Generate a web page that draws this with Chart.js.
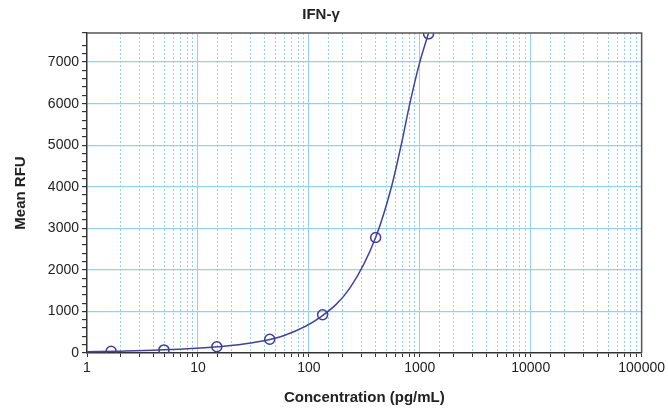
<!DOCTYPE html>
<html lang="en">
<head>
  <meta charset="UTF-8">
  <title>IFN-γ standard curve</title>
  <script src="https://cdn.jsdelivr.net/npm/chart.js"></script>
  <style>
    html, body { margin: 0; padding: 0; background: white; }
    #chartContainer { width: 668px; height: 411px; }
  </style>
</head>
<body>
  <div id="chartContainer">
    <canvas id="chart"></canvas>
  </div>

  <script>
    // standards (3-fold dilutions) and measured mean RFU
    const concentrations = [1.65, 4.94, 14.8, 44.4, 133, 400, 1200];
    const meanRFU = [40, 75, 150, 330, 920, 2780, 7680];

    // fitted curve
    const fitConc = [1, 2, 4, 8, 15, 30, 60, 130, 234, 400, 556, 684, 813, 1000, 1200];
    const fitRFU = [30, 45, 65, 100, 150, 240, 420, 880, 1560, 2780, 4000, 5040, 6000, 7000, 7700];

    const xTickLabels = [1, 10, 100, 1000, 10000, 100000];
    const yTickLabels = [0, 1000, 2000, 3000, 4000, 5000, 6000, 7000];

    const gridBlue = '#95d0ec';
    const axisDark = '#333333';
    const fontFamily = '"Liberation Sans", Arial, Helvetica, sans-serif';

    function isDecade(v) {
      const l = Math.log10(v);
      return Math.abs(l - Math.round(l)) < 1e-9;
    }

    // box round the plot area (top + right edges)
    const frame = {
      id: 'frame',
      afterDraw(chart) {
        const { ctx, chartArea: a } = chart;
        ctx.save();
        ctx.strokeStyle = '#555555';
        ctx.lineWidth = 1.5;
        ctx.beginPath();
        ctx.moveTo(a.left, a.top);
        ctx.lineTo(a.right, a.top);
        ctx.lineTo(a.right, a.bottom);
        ctx.stroke();
        ctx.restore();
      }
    };

    const ctx = document.getElementById('chart').getContext('2d');
    const chart = new Chart(ctx, {
      type: 'scatter',
      data: {
        datasets: [
          {
            label: 'Standards',
            data: concentrations.map((c, i) => ({ x: c, y: meanRFU[i] })),
            pointRadius: 5,
            pointBorderWidth: 1.5,
            borderColor: '#3c4098',
            backgroundColor: 'rgba(255,255,255,0)',
            showLine: false,
            order: 0
          },
          {
            label: 'Fit',
            data: fitConc.map((c, i) => ({ x: c, y: fitRFU[i] })),
            showLine: true,
            pointRadius: 0,
            borderColor: '#40429c',
            borderWidth: 1.5,
            cubicInterpolationMode: 'monotone',
            fill: false,
            order: 1
          }
        ]
      },
      options: {
        responsive: true,
        maintainAspectRatio: false,
        animation: false,
        layout: { padding: { left: 0, right: 26, top: 0, bottom: 0 } },
        plugins: {
          legend: { display: false },
          tooltip: { enabled: false },
          title: {
            display: true,
            text: 'IFN-γ',
            color: '#222',
            font: { family: fontFamily, size: 15, weight: 'bold' },
            padding: { top: 6, bottom: 9 }
          }
        },
        scales: {
          x: {
            type: 'logarithmic',
            min: 1,
            max: 100000,
            afterFit: (scale) => { scale.height = 58; },
            ticks: {
              autoSkip: false,
              maxRotation: 0,
              color: '#222',
              font: { family: fontFamily, size: 14 },
              padding: 3,
              callback: (v) => xTickLabels.includes(v) ? String(v) : ''
            },
            grid: {
              color: (c) => c.tick && c.tick.value > 1 && c.tick.value < 100000 ? gridBlue : 'rgba(0,0,0,0)',
              lineWidth: 1,
              tickColor: axisDark,
              tickLength: 4
            },
            border: {
              color: axisDark,
              width: 1.5,
              dash: (c) => (c.tick && !isDecade(c.tick.value)) ? [2, 2] : []
            },
            title: {
              display: true,
              text: 'Concentration (pg/mL)',
              color: '#222',
              font: { family: fontFamily, size: 15, weight: 'bold' },
              padding: { top: 6, bottom: 4 }
            }
          },
          y: {
            min: 0,
            max: 7700,
            afterFit: (scale) => { scale.width = 87; },
            ticks: {
              stepSize: 200,
              autoSkip: false,
              color: '#222',
              font: { family: fontFamily, size: 14 },
              padding: 3,
              callback: (v) => yTickLabels.includes(v) ? String(v) : ''
            },
            grid: {
              color: (c) => c.tick && c.tick.value > 0 && yTickLabels.includes(c.tick.value) ? gridBlue : 'rgba(0,0,0,0)',
              lineWidth: 1.2,
              tickColor: axisDark,
              tickLength: 5
            },
            border: { color: axisDark, width: 1.5 },
            title: {
              display: true,
              text: 'Mean RFU',
              color: '#222',
              font: { family: fontFamily, size: 15, weight: 'bold' },
              padding: { top: 12, bottom: 4 }
            }
          }
        }
      },
      plugins: [frame]
    });
  </script>
</body>
</html>
